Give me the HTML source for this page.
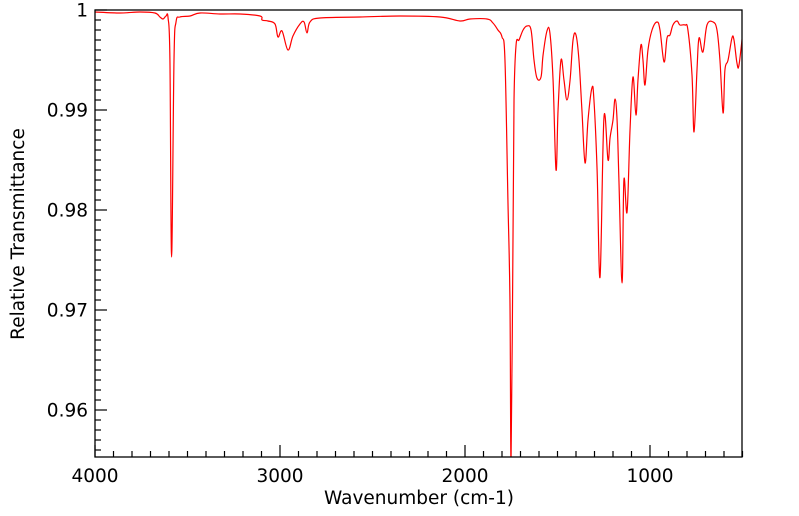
<!DOCTYPE html>
<html><head><meta charset="utf-8"><style>
html,body{margin:0;padding:0;background:#fff;}
svg{display:block;font-family:"DejaVu Sans","Liberation Sans",sans-serif;}
</style></head><body>
<svg id="chart" width="799" height="516" viewBox="0 0 799 516" xmlns="http://www.w3.org/2000/svg">
<defs><clipPath id="plotclip"><rect x="95" y="10" width="647" height="447"/></clipPath></defs>
<g id="axes"></g>
<path id="spectrum" fill="none" stroke="#ff0000" stroke-width="1.2" clip-path="url(#plotclip)"/>
<rect x="95" y="10" width="647" height="447" fill="none" stroke="#000" stroke-width="1.3"/>
<text x="419" y="504" font-size="18.5" text-anchor="middle">Wavenumber (cm-1)</text>
<text x="24" y="234" font-size="18.5" text-anchor="middle" transform="rotate(-90 24 234)">Relative Transmittance</text>
</svg>
<script>
const wavenumbers = [4000,3865,3757,3676,3649,3632,3616,3605,3595,3586,3573,3562,3541,3486,3432,3324,3216,3108,3097,3065,3027,3011,2989,2957,2930,2892,2870,2854,2838,2784,2568,2351,2135,2027,1973,1881,1849,1822,1800,1784,1768,1757,1751,1741,1735,1724,1708,1686,1665,1643,1627,1611,1589,1578,1557,1541,1524,1508,1497,1481,1465,1449,1432,1416,1400,1384,1368,1351,1335,1314,1303,1286,1270,1249,1227,1216,1200,1189,1178,1168,1151,1141,1124,1108,1092,1076,1065,1049,1038,1027,1011,989,962,946,924,908,892,876,854,838,811,795,773,762,746,735,714,692,659,638,622,605,595,578,557,546,530,519,497];
const transmittance = [0.9998,0.9997,0.9998,0.9997,0.9993,0.9991,0.9994,0.9992,0.995,0.9753,0.995,0.9988,0.9993,0.9994,0.9997,0.9996,0.9996,0.9994,0.999,0.9989,0.9986,0.9973,0.9979,0.996,0.9974,0.9986,0.9988,0.9977,0.9988,0.9992,0.9993,0.9994,0.9993,0.9989,0.9991,0.9991,0.9987,0.998,0.9973,0.995,0.981,0.971,0.955,0.976,0.991,0.9965,0.997,0.998,0.9984,0.998,0.995,0.9932,0.9933,0.9955,0.9979,0.9977,0.993,0.984,0.99,0.995,0.993,0.991,0.993,0.997,0.9975,0.995,0.99,0.9847,0.989,0.9922,0.991,0.984,0.9733,0.9892,0.985,0.9872,0.989,0.9911,0.989,0.983,0.9727,0.983,0.9798,0.988,0.9933,0.9895,0.993,0.9965,0.995,0.9925,0.996,0.998,0.9988,0.998,0.9948,0.9972,0.9975,0.9985,0.9989,0.9985,0.9985,0.998,0.9935,0.9878,0.994,0.9972,0.9958,0.9985,0.9988,0.998,0.995,0.9897,0.994,0.995,0.9972,0.997,0.9947,0.9945,0.998];
const xTicks = [4000,3000,2000,1000];
const yTicks = [1,0.99,0.98,0.97,0.96];
const yTickLabels = ["1","0.99","0.98","0.97","0.96"];

const L=95,R=742,T=10,B=457;
const xScale = w => L + (4000 - w) * 0.185;
const yScale = v => T + (1 - v) * 10000;
const NS="http://www.w3.org/2000/svg";
const axes=document.getElementById('axes');
function mk(tag,attrs){const e=document.createElementNS(NS,tag);for(const k in attrs)e.setAttribute(k,attrs[k]);return e;}

for(let w=4000; w>=500; w-=100){
  const x=xScale(w); const major = w%1000===0;
  const t=mk('line',{x1:x,x2:x,y1:B,y2:B-(major?12:6),stroke:'#000','stroke-width':1.2});
  
  
  axes.appendChild(t);
}
xTicks.forEach(w=>{
  const tx=mk('text',{x:xScale(w),y:482,'font-size':18.5,'text-anchor':'middle'});
  tx.textContent=String(w);
  
  
  axes.appendChild(tx);
});
for(let i=0;i<=45;i++){
  const v=1-i*0.001; const y=yScale(v); if(y>B) break;
  const major=i%10===0;
  const t=mk('line',{x1:L,x2:L+(major?12:6),y1:y,y2:y,stroke:'#000','stroke-width':1.2});
  
  
  axes.appendChild(t);
}
yTicks.forEach((v,i)=>{
  const tx=mk('text',{x:88,y:yScale(v)+6.5,'font-size':18.5,'text-anchor':'end'});
  tx.textContent=yTickLabels[i];
  
  
  axes.appendChild(tx);
});
const pts=wavenumbers.map((w,i)=>[xScale(w),yScale(transmittance[i])]);
let d='M'+pts[0][0].toFixed(2)+','+pts[0][1].toFixed(2);
const k=0.18;
for(let i=0;i<pts.length-1;i++){
  const p0=pts[Math.max(0,i-1)],p1=pts[i],p2=pts[i+1],p3=pts[Math.min(pts.length-1,i+2)];
  const c1=[p1[0]+(p2[0]-p0[0])*k,p1[1]+(p2[1]-p0[1])*k];
  const c2=[p2[0]-(p3[0]-p1[0])*k,p2[1]-(p3[1]-p1[1])*k];
  d+='C'+c1[0].toFixed(2)+','+c1[1].toFixed(2)+' '+c2[0].toFixed(2)+','+c2[1].toFixed(2)+' '+p2[0].toFixed(2)+','+p2[1].toFixed(2);
}
document.getElementById('spectrum').setAttribute('d',d);
</script>
</body></html>
